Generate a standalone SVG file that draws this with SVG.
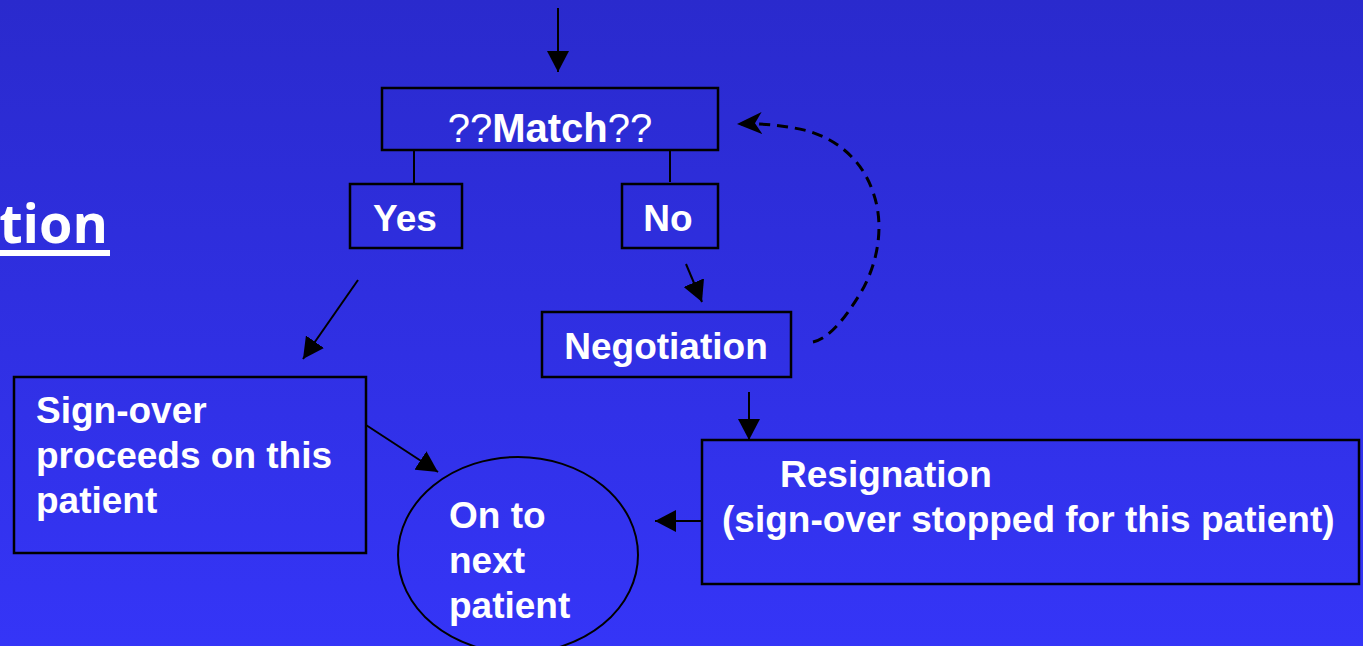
<svg xmlns="http://www.w3.org/2000/svg" width="1363" height="646" viewBox="0 0 1363 646">
<defs>
<linearGradient id="bg" x1="0" y1="0" x2="0" y2="1">
<stop offset="0" stop-color="#2a2acd"/>
<stop offset="1" stop-color="#3535f7"/>
</linearGradient>
<marker id="ah" markerUnits="userSpaceOnUse" markerWidth="22" markerHeight="22" refX="21" refY="11" orient="auto" viewBox="0 0 22 22">
<path d="M0,0 L21,11 L0,22 z" fill="#000"/>
</marker>
<marker id="ahs" markerUnits="userSpaceOnUse" markerWidth="26" markerHeight="24" refX="25" refY="12" orient="auto" viewBox="0 0 26 24">
<path d="M0,1 L25,12 L0,23 L7,12 z" fill="#000"/>
</marker>
<style>
.box{fill:none;stroke:#000;stroke-width:2.5}
.t{font-family:"Liberation Sans",Arial,sans-serif;font-weight:bold;font-size:37px;fill:#fff}
.c{stroke:#000;stroke-width:2;fill:none}
</style>
</defs>
<rect x="0" y="0" width="1363" height="646" fill="url(#bg)"/>

<g id="title">
<text x="108" y="243" text-anchor="end" style="font-family:'Open Sans','DejaVu Sans',sans-serif;font-weight:bold;font-size:54px;fill:#fff">tion</text>
<rect x="0" y="250" width="110" height="6" fill="#fff"/>
</g>

<g id="connectors">
<line class="c" x1="558" y1="8" x2="558" y2="72" marker-end="url(#ah)"/>
<line class="c" x1="414" y1="151" x2="414" y2="184"/>
<line class="c" x1="670" y1="151" x2="670" y2="182"/>
<line class="c" x1="686" y1="264" x2="702" y2="302" marker-end="url(#ah)"/>
<line class="c" x1="358" y1="280" x2="303" y2="359" marker-end="url(#ah)"/>
<line class="c" x1="366" y1="425" x2="438" y2="472" marker-end="url(#ah)"/>
<line class="c" x1="749" y1="392" x2="749" y2="440" marker-end="url(#ah)"/>
<line class="c" x1="702" y1="521" x2="655" y2="521" marker-end="url(#ah)"/>
<path d="M813 342 C 830 338, 845 318, 860 294 C 878 264, 885 225, 873 192 C 862 160, 838 140, 808 131 C 788 126, 765 123, 737 124" fill="none" stroke="#000" stroke-width="3" stroke-dasharray="11 7" marker-end="url(#ahs)"/>
</g>

<g id="match">
<rect class="box" x="382" y="88" width="336" height="62"/>
<text x="550" y="142" text-anchor="middle" class="t" style="font-size:40px"><tspan font-weight="normal">??</tspan>Match<tspan font-weight="normal">??</tspan></text>
</g>

<g id="yes">
<rect class="box" x="350" y="184" width="112" height="64"/>
<text x="405" y="231" text-anchor="middle" class="t">Yes</text>
</g>

<g id="no">
<rect class="box" x="622" y="184" width="96" height="64"/>
<text x="668" y="231" text-anchor="middle" class="t">No</text>
</g>

<g id="negotiation">
<rect class="box" x="542" y="312" width="249" height="65"/>
<text x="666" y="359" text-anchor="middle" class="t">Negotiation</text>
</g>

<g id="signover">
<rect class="box" x="14" y="377" width="352" height="176"/>
<text class="t"><tspan x="36" y="423">Sign-over</tspan><tspan x="36" y="468">proceeds on this</tspan><tspan x="36" y="513">patient</tspan></text>
</g>

<g id="next">
<ellipse cx="518" cy="555" rx="120" ry="98" fill="none" stroke="#000" stroke-width="2"/>
<text class="t"><tspan x="449" y="528">On to</tspan><tspan x="449" y="573">next</tspan><tspan x="449" y="618">patient</tspan></text>
</g>

<g id="resignation">
<rect class="box" x="702" y="440" width="657" height="144"/>
<text class="t"><tspan x="780" y="487">Resignation</tspan><tspan x="722" y="532">(sign-over stopped for this patient)</tspan></text>
</g>
</svg>
